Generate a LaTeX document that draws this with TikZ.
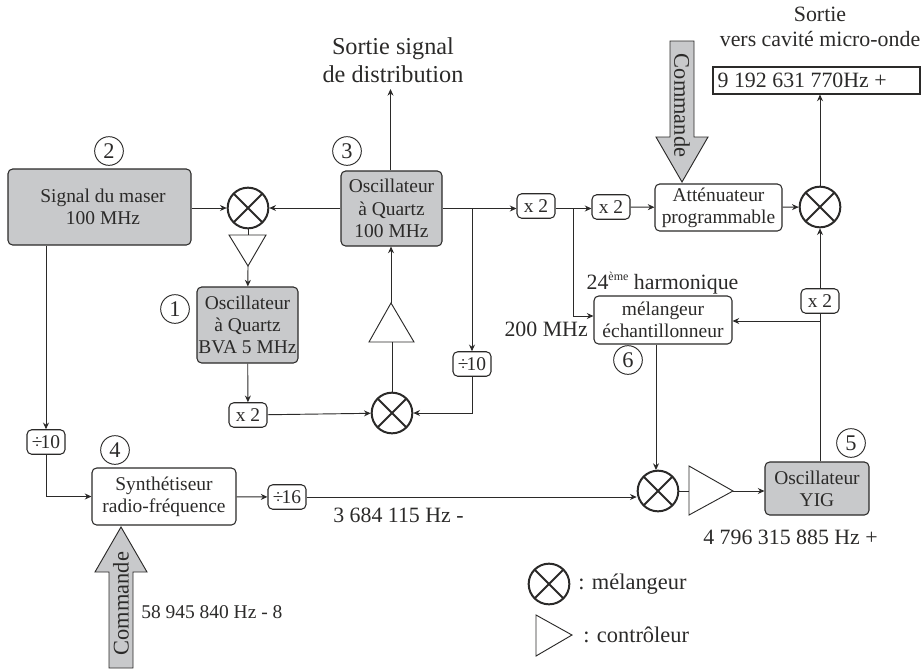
\documentclass[tikz,border=0pt]{standalone}
\usepackage{fontspec}
\setmainfont{Liberation Serif}
\usetikzlibrary{arrows.meta,calc,positioning}
\definecolor{boxgray}{HTML}{C8C9CB}
\definecolor{inkc}{HTML}{2B2A29}
\newcommand{\boxfont}{\fontsize{14.6}{16.75}\selectfont}
\newcommand{\bigfont}{\fontsize{16.4}{18.75}\selectfont}
\newcommand{\hugefont}{\fontsize{18.2}{21}\selectfont}
\newcommand{\cmdfont}{\fontsize{16.8}{18}\selectfont}
\tikzset{
  sig/.style={draw=inkc,line width=0.7pt,-{Stealth[length=5pt,width=4.5pt]}},
  wire/.style={draw=inkc,line width=0.7pt},
  tribox/.style={draw=inkc,line width=0.7pt,fill=white},
  blocbox/.style 2 args={draw=inkc,line width=0.8pt,rounded corners=3.5pt,fill=white,align=center,inner sep=0pt,
    minimum width=#1*0.75pt,minimum height=#2*0.75pt,font=\boxfont,text=inkc},
  oscbox/.style 2 args={blocbox={#1}{#2},fill=boxgray},
  factor/.style={blocbox={38}{24.5}},
  mixer/.style={circle,draw=inkc,line width=1.5pt,minimum size=30.5pt,inner sep=0pt,
    path picture={\draw[inkc,line width=1.5pt]
      (path picture bounding box.north west) -- (path picture bounding box.south east)
      (path picture bounding box.north east) -- (path picture bounding box.south west);}},
  repere/.style={circle,draw=inkc,line width=0.7pt,minimum size=21.5pt,inner sep=0pt,font=\cmdfont,text=inkc},
  legende/.style={font=\bigfont,text=inkc},
  cmdarrow/.style={draw=inkc,line width=0.7pt,fill=boxgray}
}
\begin{document}
\begin{tikzpicture}[x=0.75pt,y=-0.75pt]
  \useasboundingbox (0,0) rectangle (921,668);

  % blocs
  \node[oscbox={183}{76}] (maser) at (99.5,207) {\hspace*{5.25pt}Signal du maser\\\hspace*{5.25pt}100 MHz};
  \node[oscbox={101}{75}] (oscq) at (391.5,208.5) {Oscillateur\\à Quartz\\100 MHz};
  \node[oscbox={101}{76}] (oscbva) at (247.5,325) {Oscillateur\\à Quartz\\BVA 5 MHz};
  \node[blocbox={144}{57}] (synth) at (164,496.5) {Synthétiseur\\radio-fréquence};
  \node[blocbox={127}{47}] (atten) at (718.5,207.5) {Atténuateur\\programmable};
  \node[blocbox={138}{48}] (melech) at (663,320) {mélangeur\\échantillonneur};
  \node[oscbox={104}{53}] (yig) at (817,488.5) {Oscillateur\\YIG};
  \node[draw=inkc,line width=0.8pt,fill=white,minimum width=155.25pt,minimum height=20.25pt,inner sep=0pt,
    font=\bigfont,text=inkc] (sortie) at (816.5,80.5) {\hspace*{-21.5pt}9 192 631 770Hz +};

  % facteurs
  \node[factor] (xbva) at (248,415) {x 2};
  \node[factor] (xa) at (536,206) {x 2};
  \node[factor] (xb) at (611,207) {x 2};
  \node[factor] (xyig) at (820,301) {x 2};
  \node[factor] (dmaser) at (46,442) {÷\kern-1.5pt 10};
  \node[factor] (dq) at (472,364) {÷\kern-1.5pt 10};
  \node[factor] (dsynth) at (287,497) {÷\kern-1.5pt 16};

  % melangeurs
  \node[mixer] (mixa) at (248,208) {};
  \node[mixer] (mixb) at (392,413) {};
  \node[mixer] (mixc) at (820,207) {};
  \node[mixer] (mixd) at (658,491) {};
  \node[mixer] (legmix) at (549,584) {};

  % controleurs
  \coordinate (tria) at (248,266);
  \coordinate (trib) at (391,303);
  \coordinate (tric) at (733,491);
  \draw[tribox] (229,235) -- (266,235) -- (tria) -- cycle;
  \draw[tribox] (369,342) -- (414,342) -- (trib) -- cycle;
  \draw[tribox] (689,466) -- (689,515) -- (tric) -- cycle;
  \draw[tribox] (536,615) -- (536,656) -- (572,635) -- cycle;

  % liaisons
  \draw[sig] (maser.east |- mixa) -- (mixa);
  \draw[sig] (oscq.west |- mixa) -- (mixa);
  \draw[wire] (mixa) -- (248,235);
  \draw[sig] (tria) -- (oscbva);
  \draw[sig] (oscbva) -- (xbva);
  \draw[sig] (xbva) -- (mixb);
  \draw[wire] (mixb) -- (392,342);
  \draw[sig] (trib) -- (trib |- oscq.south);
  \coordinate (sortsig) at (390.5,89);
  \draw[sig] (oscq.north -| sortsig) -- (sortsig);
  \draw[sig] (oscq.east) -- (oscq.east -| xa.west);
  \coordinate (brq) at (oscq.east -| dq);
  \draw[sig] (brq) -- (dq);
  \draw[sig] (dq.south) |- (mixb.east);
  \draw[sig] (xa.east |- oscq.east) -- (xb.west |- oscq.east);
  \coordinate (brx) at (573,208.5);
  \draw[sig] (brx) |- (melech.west |- 0,316);
  \draw[sig] (xb) -- (atten);
  \draw[sig] (atten) -- (mixc);
  \draw[sig] (mixc) -- (mixc |- sortie.south);
  \draw[wire] (yig.north -| xyig) -- (xyig);
  \draw[sig] (xyig) -- (mixc);
  \coordinate (bry) at (820,321);
  \draw[sig] (bry) -- (melech.east |- bry);
  \draw[sig] (melech.south -| 656,0) -- (656,470);
  \draw[wire] (mixd) -- (689,491);
  \draw[sig] (tric) -- (yig.west |- tric);
  \draw[sig] (maser.south -| dmaser) -- (dmaser);
  \draw[sig] (dmaser) |- (synth);
  \draw[sig] (synth) -- (dsynth);
  \draw[sig] (dsynth.east) -- (dsynth.east -| mixd.west);

  % commandes
  \draw[cmdarrow] (109,668) -- (109,572) -- (95,572) -- (121,527) -- (147,572) -- (133,572) -- (133,668) -- cycle;
  \draw[cmdarrow] (670,41) -- (694,41) -- (694,137) -- (708,137) -- (682,182) -- (656,137) -- (670,137) -- cycle;
  \node[rotate=90,font=\cmdfont,text=inkc] (cmdb) at (121,603.5) {Commande};
  \node[rotate=-90,font=\cmdfont,text=inkc] (cmdh) at (682,105.5) {Commande};

  % reperes
  \node[repere] (rdeux) at (109,151) {2};
  \node[repere] (rtrois) at (347,151) {3};
  \node[repere] (run) at (175,309) {1};
  \node[repere] (rquatre) at (115,450) {4};
  \node[repere] (rcinq) at (851,443) {5};
  \node[repere] (rsix) at (628,360) {6};

  % textes
  \node[legende,align=center,font=\hugefont] (tsortie) at (393,60) {Sortie signal\\de distribution};
  \node[legende,align=center] (tcavite) at (820,27) {Sortie\\vers cavité micro-onde};
  \node[legende] (tharm) at (662.5,283) {24\raisebox{0.42em}{\fontsize{9}{9}\selectfont ème} harmonique};
  \node[legende,anchor=east,inner sep=0pt] (tdeux) at (588,329) {200 MHz};
  \node[legende,anchor=west,inner sep=0pt] (tfi) at (333,515) {3 684 115 Hz -};
  \node[legende,anchor=west,inner sep=0pt,font=\boxfont] (tsyn) at (141,612) {58 945 840 Hz - 8};
  \node[legende] (tyig) at (790.5,537) {4 796 315 885 Hz +};
  \node[legende,anchor=west,inner sep=0pt,font=\cmdfont] (tmel) at (578,584) {: mélangeur};
  \node[legende,anchor=west,inner sep=0pt,font=\cmdfont] (tcont) at (583,635) {: contrôleur};
\end{tikzpicture}
\end{document}
